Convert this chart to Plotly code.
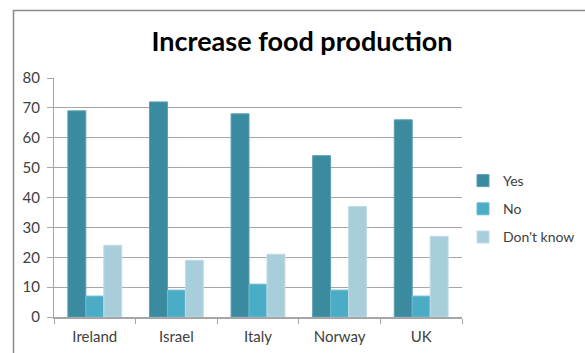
import plotly.graph_objects as go

countries = ["Ireland", "Israel", "Italy", "Norway", "UK"]
yes_vals = [69, 72, 68, 54, 66]
no_vals = [7, 9, 11, 9, 7]
dont_know_vals = [24, 19, 21, 37, 27]

series = [
    ("Yes", yes_vals, "#3B8BA0", "#5A9FB2"),
    ("No", no_vals, "#4BACC6", "#6BBCD2"),
    ("Don't know", dont_know_vals, "#A8CEDC", "#BFDCE6"),
]

W, H = 585, 353
L, R, T, B = 54, 123, 78, 36
pw, ph = W - L - R, H - T - B

fig = go.Figure()
for i, (name, vals, color, edge) in enumerate(series):
    fig.add_trace(go.Bar(
        x=countries, y=vals, name=name, legendgroup=f"g{i}",
        marker=dict(color=color, line=dict(color=edge, width=1)),
    ))

def px_x(p):
    return (p - L) / pw

def px_y(p):
    return (H - B - p) / ph

# outer chart frame (runs off the right and bottom edges)
fig.add_shape(type="rect", xref="paper", yref="paper",
              x0=px_x(13.5), x1=px_x(620), y0=px_y(10.5), y1=px_y(400),
              line=dict(color="#8C8C8C", width=1.5), layer="below")

font_fam = "Lato, 'Open Sans', sans-serif"
fig.update_layout(
    width=W, height=H,
    margin=dict(l=L, r=R, t=T, b=B, autoexpand=False),
    paper_bgcolor="white", plot_bgcolor="white",
    barmode="group", bargap=0.34, bargroupgap=0,
    font=dict(family=font_fam, size=14, color="#404040"),
    title=dict(text="<b>Increase food production</b>", x=px_x(302), xref="paper",
               xanchor="center", y=1 - 42 / H, yanchor="middle",
               font=dict(family=font_fam, size=27, color="#000000")),
    legend=dict(x=px_x(463), y=px_y(165), xanchor="left", yanchor="top",
                xref="paper", yref="paper",
                traceorder="grouped", tracegroupgap=7,
                font=dict(family=font_fam, size=14, color="#404040"),
                itemwidth=30),
    showlegend=True,
)
fig.update_yaxes(range=[0, 80], dtick=10, showgrid=True, gridcolor="#A6A6A6",
                 gridwidth=1, showline=True, linecolor="#A6A6A6", linewidth=1,
                 ticks="outside", ticklen=6, tickcolor="#A6A6A6",
                 zeroline=False, ticklabelstandoff=4, automargin=False,
                 tickfont=dict(size=15, color="#404040"))
fig.update_xaxes(showline=True, linecolor="#A6A6A6", linewidth=1.5,
                 ticks="outside", ticklen=5, tickcolor="#A6A6A6",
                 tickson="boundaries", showgrid=False,
                 ticklabelstandoff=5, automargin=False,
                 tickfont=dict(size=15, color="#404040"))

fig.write_html("out.html")
